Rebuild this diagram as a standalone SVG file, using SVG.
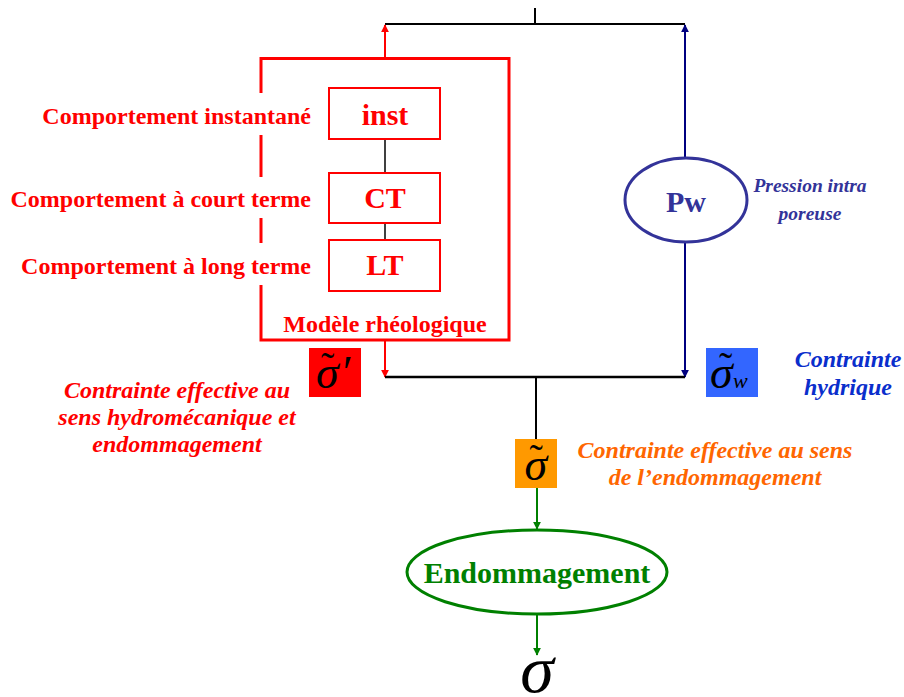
<svg xmlns="http://www.w3.org/2000/svg" width="904" height="697" viewBox="0 0 904 697">
<style>
.t{font-family:"Liberation Serif","Times New Roman",serif;font-weight:bold}
.red{fill:#ff0000}
.lbl{font-size:24px;text-anchor:end}
.box{fill:none;stroke:#ff0000;stroke-width:2}
.big{font-size:30px;text-anchor:middle}
.it{font-style:italic;font-size:24px;text-anchor:middle}
.it.sm{font-size:19.5px}
.sym{font-family:"Liberation Serif","Times New Roman",serif;fill:#000;font-style:italic}
.tl{font-style:normal;font-size:40px}
</style>
<defs>
<marker id="ar" viewBox="0 0 10 10" refX="9" refY="5" markerWidth="4" markerHeight="4" orient="auto"><path d="M0,0L10,5L0,10z" fill="#ff0000"/></marker>
<marker id="ab" viewBox="0 0 10 10" refX="9" refY="5" markerWidth="4" markerHeight="4" orient="auto"><path d="M0,0L10,5L0,10z" fill="#000080"/></marker>
<marker id="ag" viewBox="0 0 10 10" refX="9" refY="5" markerWidth="4" markerHeight="4" orient="auto"><path d="M0,0L10,5L0,10z" fill="#008000"/></marker>
</defs>
<rect width="904" height="697" fill="#fff"/>
<g id="connectors">
<line x1="535" y1="8" x2="535" y2="24" stroke="#000" stroke-width="2"/>
<line x1="385" y1="24" x2="685" y2="24" stroke="#000" stroke-width="2"/>
<line x1="385" y1="58" x2="385" y2="25" stroke="#ff0000" stroke-width="2" marker-end="url(#ar)"/>
<line x1="685" y1="158" x2="685" y2="25" stroke="#000080" stroke-width="2" marker-end="url(#ab)"/>
<line x1="685" y1="242" x2="685" y2="377" stroke="#000080" stroke-width="2" marker-end="url(#ab)"/>
<line x1="385" y1="341" x2="385" y2="377" stroke="#ff0000" stroke-width="2" marker-end="url(#ar)"/>
<line x1="385" y1="377" x2="685" y2="377" stroke="#000" stroke-width="2.5"/>
<line x1="536" y1="377" x2="536" y2="439" stroke="#000" stroke-width="2"/>
<line x1="537" y1="488" x2="537" y2="529" stroke="#008000" stroke-width="2" marker-end="url(#ag)"/>
<line x1="537" y1="614" x2="537" y2="655" stroke="#008000" stroke-width="2" marker-end="url(#ag)"/>
<line x1="385" y1="139" x2="385" y2="173" stroke="#000" stroke-width="1.5"/>
<line x1="385" y1="223" x2="385" y2="240" stroke="#000" stroke-width="1.5"/>
</g>
<g id="rheo">
<path d="M261,93V58.5H509V340H261V285M261,135V177M261,218V243" fill="none" stroke="#ff0000" stroke-width="3"/>
<text class="t red" x="385" y="332" font-size="24" text-anchor="middle">Modèle rhéologique</text>
</g>
<g id="inst">
<rect class="box" x="329" y="88" width="111" height="51"/>
<text class="t red big" x="385" y="125">inst</text>
<text class="t red lbl" x="311" y="124">Comportement instantané</text>
</g>
<g id="ct">
<rect class="box" x="329" y="173" width="111" height="50"/>
<text class="t red big" x="385" y="208">CT</text>
<text class="t red lbl" x="311" y="207">Comportement à court terme</text>
</g>
<g id="lt">
<rect class="box" x="329" y="240" width="111" height="51"/>
<text class="t red big" x="385" y="275">LT</text>
<text class="t red lbl" x="311" y="274">Comportement à long terme</text>
</g>
<g id="pw">
<ellipse cx="686" cy="200" rx="61" ry="42" fill="#fff" stroke="#333399" stroke-width="3"/>
<text class="t big" x="686" y="212" fill="#333399">Pw</text>
<text class="t it sm" x="810" y="192" fill="#333399">Pression intra</text>
<text class="t it sm" x="810" y="220" fill="#333399">poreuse</text>
</g>
<g id="sigmaprime">
<rect x="309" y="348" width="52" height="49" fill="#ff0000"/>
<text class="sym" x="316" y="388" font-size="46">σ<tspan class="tl" x="321" y="380">˜</tspan><tspan x="340" y="388">′</tspan></text>
<text class="t it red" x="177" y="398">Contrainte effective au</text>
<text class="t it red" x="177" y="425">sens hydromécanique et</text>
<text class="t it red" x="177" y="452">endommagement</text>
</g>
<g id="sigmaw">
<rect x="706" y="348" width="52" height="49" fill="#3366ff"/>
<text class="sym" x="710" y="388" font-size="46">σ<tspan class="tl" x="719" y="380">˜</tspan><tspan x="733" y="388" font-size="22">w</tspan></text>
<text class="t it" x="848" y="367" fill="#0a2ecc">Contrainte</text>
<text class="t it" x="848" y="395" fill="#0a2ecc">hydrique</text>
</g>
<g id="sigmatilde">
<rect x="515" y="439" width="42" height="49" fill="#ff9900"/>
<text class="sym" x="524.5" y="480" font-size="46">σ<tspan class="tl" x="529.5" y="472">˜</tspan></text>
<text class="t it" x="715" y="458" fill="#ff6600">Contrainte effective au sens</text>
<text class="t it" x="715" y="485" fill="#ff6600">de l’endommagement</text>
</g>
<g id="endo">
<ellipse cx="537" cy="572" rx="130" ry="42" fill="#fff" stroke="#008000" stroke-width="3"/>
<text class="t" x="537" y="583" font-size="30" text-anchor="middle" fill="#008000">Endommagement</text>
</g>
<g id="sigma">
<text class="sym" x="537" y="692" font-size="68" text-anchor="middle">σ</text>
</g>
</svg>
